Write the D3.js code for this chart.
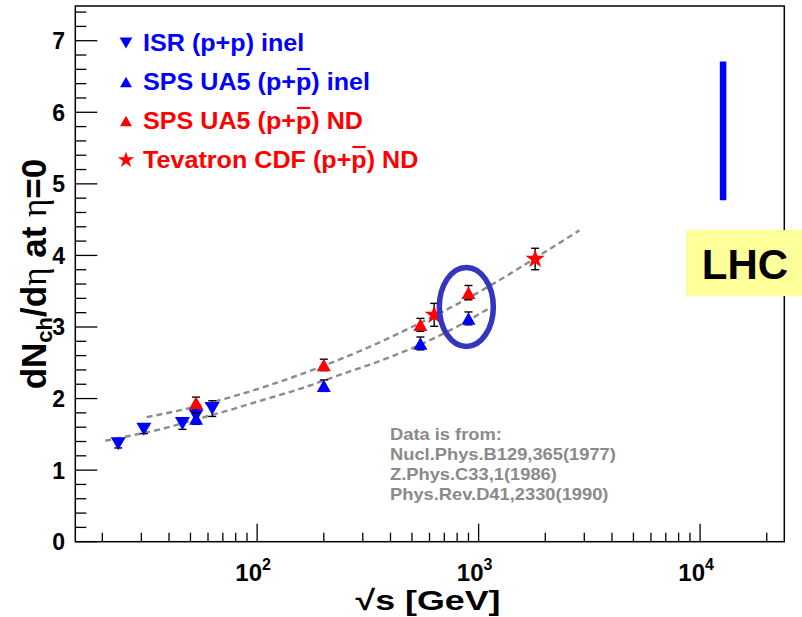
<!DOCTYPE html>
<html>
<head>
<meta charset="utf-8">
<script src="https://cdn.jsdelivr.net/npm/d3@7"></script>
<style>
  body { margin: 0; background: #fff; }
  svg { display: block; }
  text { font-family: "Liberation Sans", Arial, Helvetica, sans-serif; }
</style>
</head>
<body>
<svg id="chart" width="802" height="617"></svg>
<script>
// ---- measurements: sqrt(s) [GeV] and dNch/deta at eta = 0 ----
const isrX   = [23.6, 30.8, 46, 53, 62.7];
const isrY   = [1.37, 1.57, 1.65, 1.76, 1.86];
const isrErr = [0.06, 0.06, 0.08, 0.10, 0.11];

const ua5InelX   = [53, 200, 546, 900];
const ua5InelY   = [1.72, 2.18, 2.77, 3.12];
const ua5InelErr = [0.08, 0.08, 0.09, 0.09];

const ua5NdX   = [53, 200, 546, 900];
const ua5NdY   = [1.94, 2.47, 3.03, 3.48];
const ua5NdErr = [0.08, 0.08, 0.09, 0.10];

const cdfX   = [630, 1800];
const cdfY   = [3.17, 3.95];
const cdfErr = [0.16, 0.15];

// dashed trend curves (non-diffractive and inelastic)
const ndCurveX   = [31.7, 50, 80, 125, 200, 315, 500, 800, 1250, 2000, 2850];
const ndCurveY   = [1.74, 1.87, 2.04, 2.23, 2.46, 2.71, 3.00, 3.32, 3.66, 4.05, 4.35];
const inelCurveX = [20.6, 26.7, 37.7, 53, 75.3, 106, 150.6, 236, 384, 542, 793, 1100];
const inelCurveY = [1.41, 1.48, 1.58, 1.71, 1.84, 1.98, 2.12, 2.33, 2.56, 2.75, 3.00, 3.25];

// LHC expectation band
const lhcX = 12700;
const lhcRange = [4.77, 6.71];

// axes
const xDomain = [15.1, 24000];
const yDomain = [0, 7.485];
const xTickExponents = [2, 3, 4];
const yTickValues = [0, 1, 2, 3, 4, 5, 6, 7];

const legendItems = [
  { label: ["ISR (p+p) inel"], color: "#0000ff", shape: "down" },
  { label: ["SPS UA5 (p+", "p", ") inel"], color: "#0000ff", shape: "up" },
  { label: ["SPS UA5 (p+", "p", ") ND"], color: "#ff0000", shape: "up" },
  { label: ["Tevatron CDF (p+", "p", ") ND"], color: "#ff0000", shape: "star" }
];
const sourceLines = ["Data is from:", "Nucl.Phys.B129,365(1977)", "Z.Phys.C33,1(1986)", "Phys.Rev.D41,2330(1990)"];

// ---- layout ----
const frame = { left: 75.3, right: 784.3, top: 6, bottom: 541.7 };
const svg = d3.select("#chart");

const x = d3.scaleLog().domain(xDomain).range([frame.left, frame.right]);
const y = d3.scaleLinear().domain(yDomain).range([frame.bottom, frame.top]);

const blue = "#0000ff", red = "#ff0000";

// marker shapes (centred on the point)
function triPath(w, h, down) {
  const s = down ? -1 : 1;
  return `M${-w / 2},${s * h / 2}L${w / 2},${s * h / 2}L0,${-s * h / 2}Z`;
}
function markerPath(shape, scale) {
  if (shape === "down") return triPath(15 * scale, 13 * scale, true);
  if (shape === "up") return triPath(14 * scale, 12.5 * scale, false);
  return d3.symbol().type(d3.symbolStar).size(115 * scale * scale)();
}

// ---- frame ----
svg.append("rect")
  .attr("x", frame.left).attr("y", frame.top)
  .attr("width", frame.right - frame.left).attr("height", frame.bottom - frame.top)
  .attr("fill", "none").attr("stroke", "#000").attr("stroke-width", 1.5);

// x ticks (log, inside the frame)
const xTicks = x.ticks().filter(v => v >= xDomain[0] && v <= xDomain[1]);
const isDecade = v => Math.abs(Math.log10(v) - Math.round(Math.log10(v))) < 1e-9;
svg.append("g").selectAll("line").data(xTicks).join("line")
  .attr("x1", d => x(d)).attr("x2", d => x(d))
  .attr("y1", frame.bottom).attr("y2", d => frame.bottom - (isDecade(d) ? 18 : 9))
  .attr("stroke", "#000").attr("stroke-width", 1.3);

// x tick labels 10^n
const xl = svg.append("g").selectAll("text").data(xTickExponents).join("text")
  .attr("x", d => x(Math.pow(10, d)) - 4).attr("y", 581)
  .attr("text-anchor", "middle").attr("font-weight", "bold").attr("font-size", 24)
  .attr("fill", "#000");
xl.append("tspan").text("10");
xl.append("tspan").attr("font-size", 16).attr("dy", -11).text(d => d);

// y ticks
const yMinor = d3.range(0, 7.5, 0.2).map(v => +v.toFixed(1)).filter(v => v <= yDomain[1]);
svg.append("g").selectAll("line").data(yMinor).join("line")
  .attr("x1", frame.left).attr("y1", d => y(d)).attr("y2", d => y(d))
  .attr("x2", d => frame.left + (Math.abs(d - Math.round(d)) < 1e-6 ? 22 : 11))
  .attr("stroke", "#000").attr("stroke-width", 1.3);
svg.append("g").selectAll("text").data(yTickValues).join("text")
  .attr("x", 65).attr("y", d => y(d) + 8.5)
  .attr("text-anchor", "end").attr("font-weight", "bold").attr("font-size", 23)
  .text(d => d);

// axis titles
const xTitle = svg.append("text").attr("font-weight", "bold").attr("font-size", 28)
  .attr("text-anchor", "middle");
xTitle.append("tspan").text("\u221As [GeV]");
{
  const k = 145 / xTitle.node().getBBox().width;
  xTitle.attr("transform", `translate(428,610) scale(${k},1)`);
}

const yTitle = svg.append("text").attr("font-weight", "bold").attr("font-size", 35)
  .attr("text-anchor", "middle").attr("transform", "translate(46,274) rotate(-90)");
yTitle.append("tspan").text("dN");
yTitle.append("tspan").attr("font-size", 22).attr("dy", 6).text("ch");
yTitle.append("tspan").attr("dy", -6).text("/d");
yTitle.append("tspan").attr("font-weight", "normal").attr("font-family", "Liberation Serif, serif").text("\u03B7");
yTitle.append("tspan").text(" at ");
yTitle.append("tspan").attr("font-weight", "normal").attr("font-family", "Liberation Serif, serif").text("\u03B7");
yTitle.append("tspan").text("=0");

// ---- dashed curves ----
const curve = d3.line().x(d => x(d[0])).y(d => y(d[1])).curve(d3.curveMonotoneX);
[[ndCurveX, ndCurveY], [inelCurveX, inelCurveY]].forEach(([cx, cy]) => {
  svg.append("path")
    .attr("d", curve(cx.map((v, i) => [v, cy[i]])))
    .attr("fill", "none").attr("stroke", "#8c8c8c").attr("stroke-width", 2.4)
    .attr("stroke-dasharray", "6,4");
});

// ---- data with error bars ----
function series(xs, ys, errs, color, shape) {
  const pts = xs.map((v, i) => ({ x: v, y: ys[i], e: errs[i] }));
  const g = svg.append("g");
  const eb = g.selectAll("g.eb").data(pts).join("g");
  eb.append("line").attr("x1", d => x(d.x)).attr("x2", d => x(d.x))
    .attr("y1", d => y(d.y - d.e)).attr("y2", d => y(d.y + d.e));
  eb.append("line").attr("x1", d => x(d.x) - 4).attr("x2", d => x(d.x) + 4)
    .attr("y1", d => y(d.y - d.e)).attr("y2", d => y(d.y - d.e));
  eb.append("line").attr("x1", d => x(d.x) - 4).attr("x2", d => x(d.x) + 4)
    .attr("y1", d => y(d.y + d.e)).attr("y2", d => y(d.y + d.e));
  eb.selectAll("line").attr("stroke", "#000").attr("stroke-width", 1.4);
  g.selectAll("path").data(pts).join("path")
    .attr("transform", d => `translate(${x(d.x)},${y(d.y)})`)
    .attr("d", markerPath(shape, 1)).attr("fill", color);
}
series(isrX, isrY, isrErr, blue, "down");
series(ua5InelX, ua5InelY, ua5InelErr, blue, "up");
series(ua5NdX, ua5NdY, ua5NdErr, red, "up");
series(cdfX, cdfY, cdfErr, red, "star");

// highlight around the 900 GeV measurements
svg.append("ellipse")
  .attr("cx", x(880)).attr("cy", y(3.28)).attr("rx", 27).attr("ry", 39.5)
  .attr("fill", "none").attr("stroke", "#3535c0").attr("stroke-width", 5.5);

// LHC band
svg.append("line")
  .attr("x1", x(lhcX)).attr("x2", x(lhcX))
  .attr("y1", y(lhcRange[0])).attr("y2", y(lhcRange[1]))
  .attr("stroke", blue).attr("stroke-width", 6.5);

svg.append("rect").attr("x", 686).attr("y", 230).attr("width", 116).attr("height", 66)
  .attr("fill", "#ffff99");
svg.append("text").attr("x", 745).attr("y", 279).attr("text-anchor", "middle")
  .attr("font-weight", "bold").attr("font-size", 42).attr("fill", "#000").text("LHC");

// ---- legend ----
const legendRowY = [43, 82, 121, 160];
legendItems.forEach((item, i) => {
  const cy = legendRowY[i];
  svg.append("path").attr("transform", `translate(126,${cy})`)
    .attr("d", markerPath(item.shape, 0.85)).attr("fill", item.color);
  const tf = `translate(143,${cy + 8}) scale(1.07,1)`;
  const t = svg.append("text").attr("font-weight", "bold").attr("font-size", 23.5)
    .attr("fill", item.color).attr("transform", tf);
  item.label.forEach(part => t.append("tspan").text(part));
  if (item.label.length > 1) {
    // overbar on the antiproton symbol
    const ext = t.node().getExtentOfChar(item.label[0].length);
    svg.append("line").attr("transform", tf)
      .attr("x1", ext.x + 1).attr("x2", ext.x + ext.width - 1)
      .attr("y1", -21).attr("y2", -21)
      .attr("stroke", item.color).attr("stroke-width", 2.2);
  }
});

// ---- data sources ----
const src = svg.append("g").attr("fill", "#8a8a8a").attr("font-weight", "bold").attr("font-size", 16.5);
sourceLines.forEach((s, i) => {
  src.append("text")
    .attr("transform", `translate(390,${440 + i * 20}) scale(1.11,1)`).text(s);
});
</script>
</body>
</html>
